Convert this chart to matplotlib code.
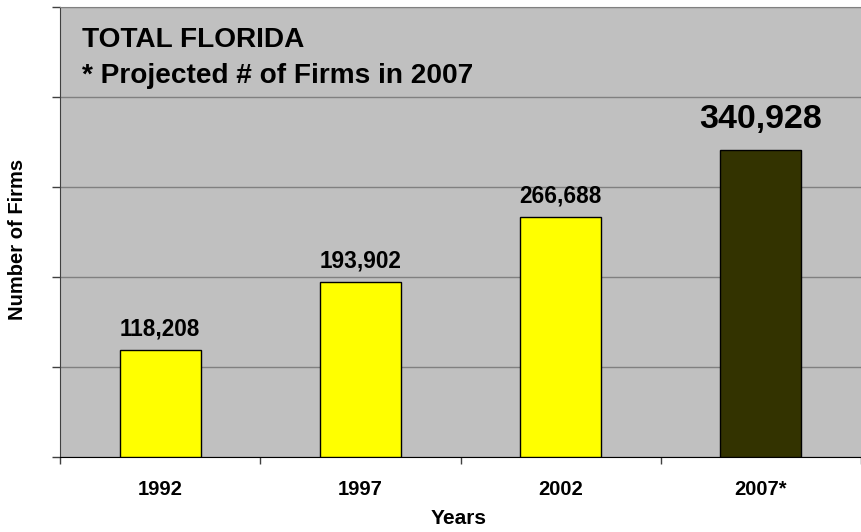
import matplotlib
matplotlib.use("Agg")
import matplotlib.pyplot as plt
import numpy as np

plt.rcParams['font.family'] = ['Liberation Sans', 'DejaVu Sans']

years = ["1992", "1997", "2002", "2007*"]
firms = [118208, 193902, 266688, 340928]
bar_colors = ["#FFFF00", "#FFFF00", "#FFFF00", "#333300"]
label_sizes = [16.3, 16.3, 16.3, 24.5]
label_gaps = [10.5, 10.5, 10.5, 16]  # points above bar top (baseline)

fig = plt.figure(figsize=(8.61, 5.32), dpi=100)
ax = fig.add_axes([60 / 861, 75.3 / 532, 801 / 861, 450 / 532])
ax.set_facecolor("#C0C0C0")

x = np.arange(len(years))
ax.bar(x, firms, width=0.405, color=bar_colors, edgecolor="black", linewidth=1, zorder=3)

ax.set_xlim(-0.5, 3.5)
ax.set_ylim(0, 500000)
ax.set_yticks(np.arange(0, 500001, 100000))
ax.set_yticklabels([])
ax.yaxis.grid(True, color="#808080", linewidth=1)
ax.set_axisbelow(True)
ax.tick_params(axis="y", direction="out", length=6, width=1, color="#404040")

ax.set_xticks(x)
ax.set_xticklabels(years, fontsize=14.5, fontweight="bold")
ax.set_xticks(np.arange(-0.5, 3.6, 1), minor=True)
ax.tick_params(axis="x", which="major", length=0, pad=17)
ax.tick_params(axis="x", which="minor", direction="out", length=5, width=1, color="#404040")

ax.spines["right"].set_visible(False)
ax.spines["top"].set_color("#808080")
ax.spines["left"].set_color("#404040")
ax.spines["bottom"].set_color("black")

for xi, v, s, g in zip(x, firms, label_sizes, label_gaps):
    ax.annotate("{:,}".format(v), (xi, v), xytext=(0, g), textcoords="offset points",
                ha="center", va="baseline", fontsize=s, fontweight="bold")

ax.text(22 / 801, 0.910, "TOTAL FLORIDA", transform=ax.transAxes,
        fontsize=20.2, fontweight="bold", va="baseline", ha="left")
ax.text(22 / 801, 0.8305, "* Projected # of Firms in 2007", transform=ax.transAxes,
        fontsize=20.2, fontweight="bold", va="baseline", ha="left")

fig.text(18 / 861, 293 / 532, "Number of Firms", rotation=90, ha="center", va="center",
         fontsize=14.5, fontweight="bold")
fig.text(459 / 861, 13 / 532, "Years", ha="center", va="center",
         fontsize=15, fontweight="bold")

fig.savefig("out.png", dpi=100)
